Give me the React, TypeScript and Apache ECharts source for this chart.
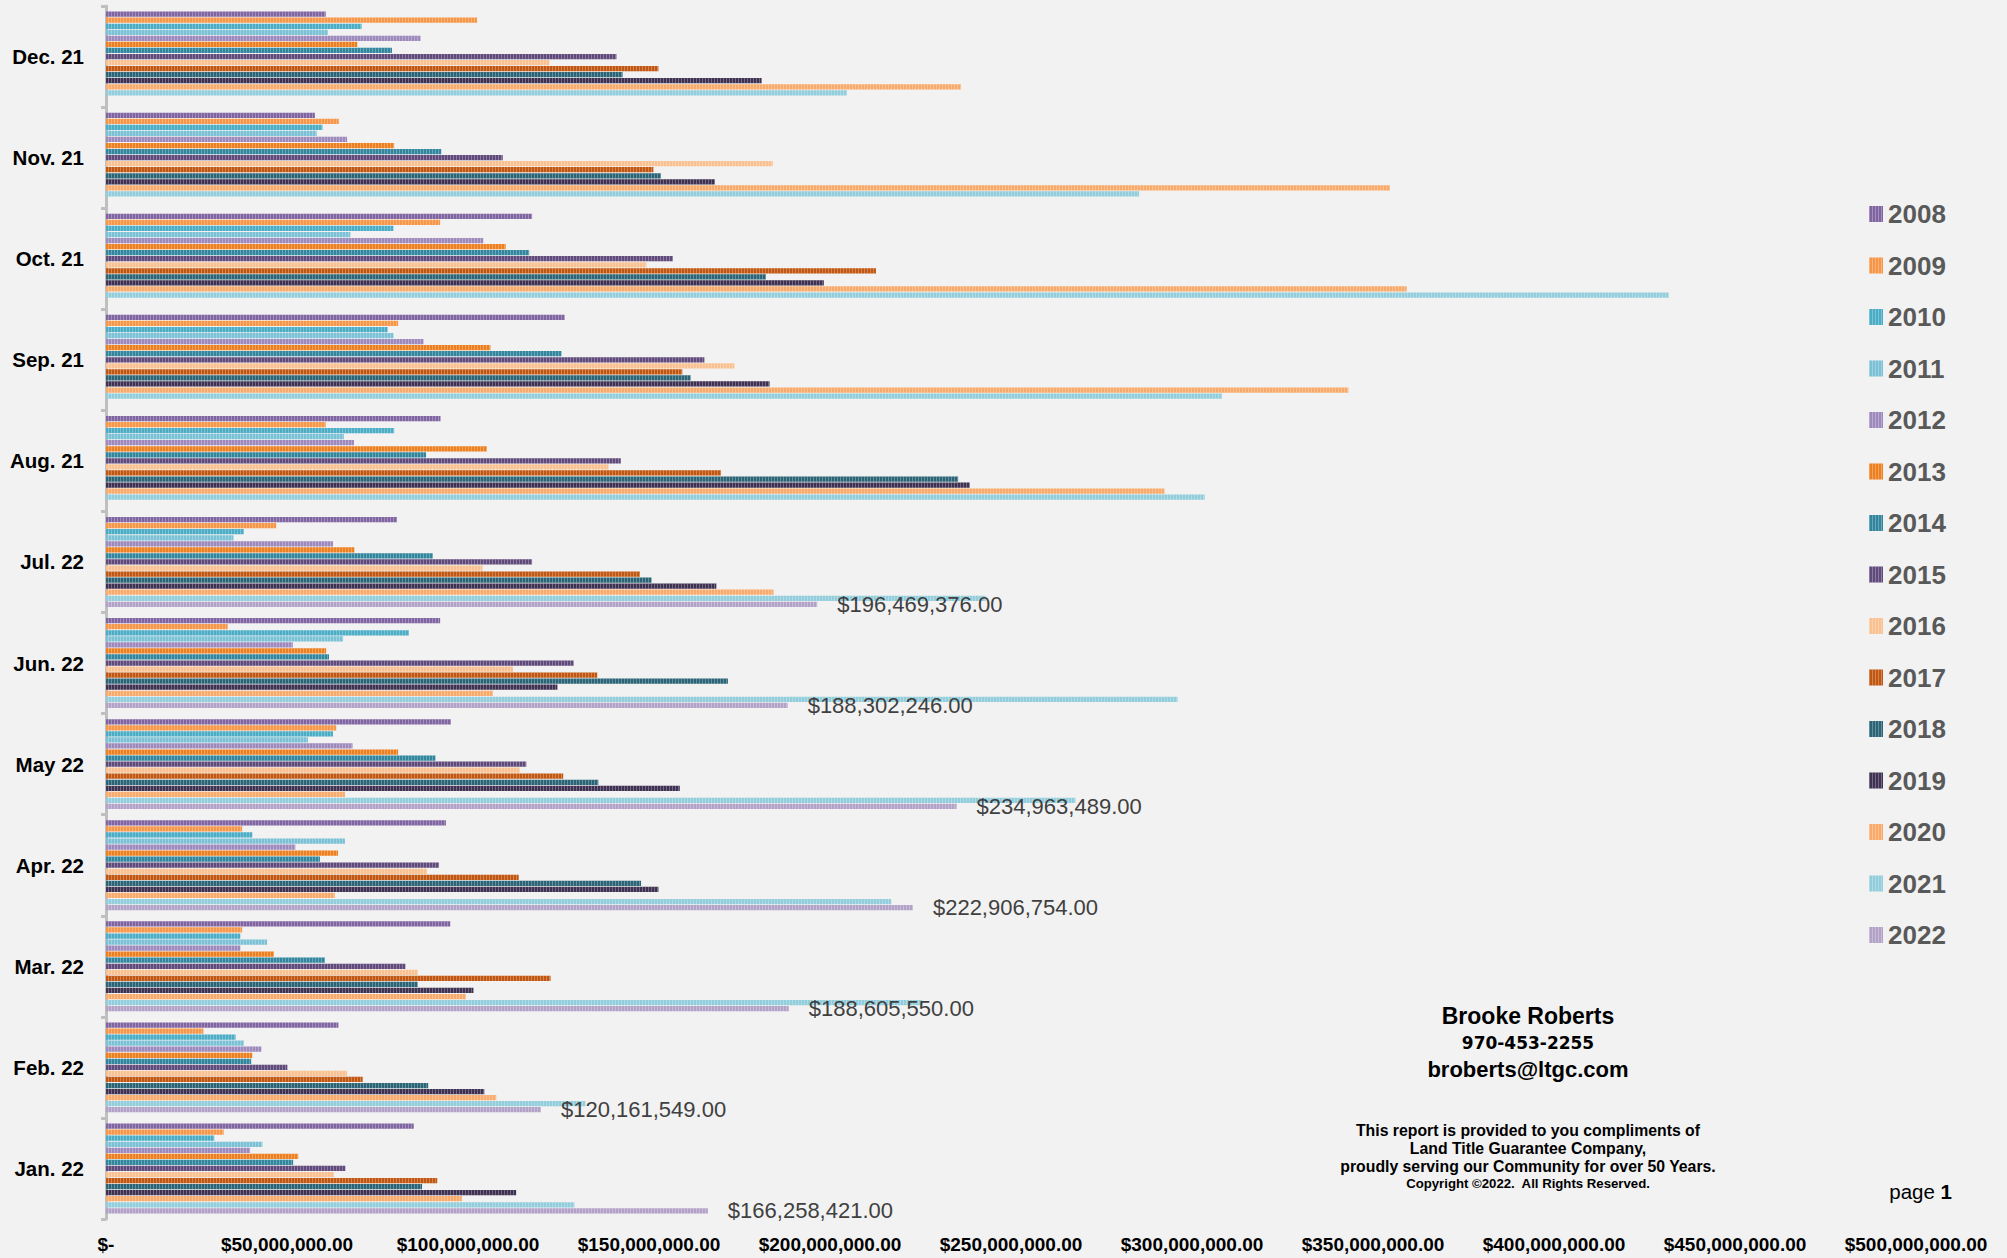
import React, { useEffect, useRef } from 'react';
import * as echarts from 'echarts';

const categories = ['Jan. 22', 'Feb. 22', 'Mar. 22', 'Apr. 22', 'May 22', 'Jun. 22', 'Jul. 22', 'Aug. 21', 'Sep. 21', 'Oct. 21', 'Nov. 21', 'Dec. 21'];
const seriesNames = ['2008', '2009', '2010', '2011', '2012', '2013', '2014', '2015', '2016', '2017', '2018', '2019', '2020', '2021', '2022'];
const xTicks = [0, 50e6, 100e6, 150e6, 200e6, 250e6, 300e6, 350e6, 400e6, 450e6, 500e6];

const v2008 = [85.0e6, 64.2e6, 95.1e6, 93.9e6, 95.3e6, 92.3e6, 80.4e6, 92.4e6, 126.7e6, 117.7e6, 57.7e6, 60.7e6];
const v2009 = [32.5e6, 26.9e6, 37.6e6, 37.6e6, 63.6e6, 33.6e6, 47.0e6, 60.7e6, 80.7e6, 92.3e6, 64.3e6, 102.5e6];
const v2010 = [29.9e6, 35.8e6, 37.1e6, 40.4e6, 62.7e6, 83.7e6, 38.1e6, 79.6e6, 77.8e6, 79.4e6, 59.8e6, 70.6e6];
const v2011 = [43.2e6, 38.1e6, 44.5e6, 66.0e6, 55.8e6, 65.5e6, 35.2e6, 65.7e6, 79.4e6, 67.5e6, 58.2e6, 61.3e6];
const v2012 = [39.8e6, 42.9e6, 37.1e6, 52.3e6, 68.1e6, 51.6e6, 62.7e6, 68.5e6, 87.7e6, 104.2e6, 66.6e6, 86.9e6];
const v2013 = [53.1e6, 40.4e6, 46.4e6, 64.1e6, 80.7e6, 60.8e6, 68.6e6, 105.2e6, 106.2e6, 110.4e6, 79.6e6, 69.4e6];
const v2014 = [51.7e6, 40.1e6, 60.5e6, 59.1e6, 91.0e6, 61.6e6, 90.3e6, 88.4e6, 125.8e6, 116.9e6, 92.6e6, 79.0e6];
const v2015 = [66.1e6, 50.1e6, 82.7e6, 92.0e6, 116.1e6, 129.2e6, 117.7e6, 142.2e6, 165.3e6, 156.6e6, 109.6e6, 141.0e6];
const v2016 = [63.0e6, 66.6e6, 86.1e6, 88.7e6, 114.3e6, 112.4e6, 104.0e6, 138.8e6, 173.6e6, 149.3e6, 184.2e6, 122.5e6];
const v2017 = [91.5e6, 70.9e6, 122.8e6, 114.0e6, 126.3e6, 135.7e6, 147.5e6, 169.9e6, 159.2e6, 212.7e6, 151.2e6, 152.6e6];
const v2018 = [87.3e6, 89.0e6, 86.1e6, 147.8e6, 136.0e6, 171.8e6, 150.7e6, 235.4e6, 161.5e6, 182.3e6, 153.3e6, 142.7e6];
const v2019 = [113.3e6, 104.5e6, 101.5e6, 152.6e6, 158.5e6, 124.7e6, 168.6e6, 238.6e6, 183.3e6, 198.3e6, 168.2e6, 181.1e6];
const v2020 = [98.3e6, 107.8e6, 99.4e6, 63.2e6, 66.0e6, 106.9e6, 184.4e6, 292.4e6, 343.2e6, 359.3e6, 354.7e6, 236.2e6];
const v2021 = [129.4e6, 132.4e6, 225.5e6, 216.9e6, 267.8e6, 296.0e6, 243.0e6, 303.5e6, 308.3e6, 431.7e6, 285.4e6, 204.7e6];
const v2022 = [166258421, 120161549, 188605550, 222906754, 234963489, 188302246, 196469376, null, null, null, null, null];

const seriesValues = [v2008, v2009, v2010, v2011, v2012, v2013, v2014, v2015, v2016, v2017, v2018, v2019, v2020, v2021, v2022];

const colors = [
  '#8064A2', '#F79646', '#4BACC6', '#7BC1D5', '#9E89BD',
  '#EE7F1E', '#31859C', '#604A7B', '#FAC090', '#C0560F',
  '#2B6476', '#3F3151', '#F9AA6A', '#92CDDC', '#B3A2C7',
];

const FONT = '"Liberation Sans", Arial, sans-serif';

function money(v: number): string {
  if (v === 0) return '$-';
  const s = Math.round(v).toString().replace(/\B(?=(\d{3})+(?!\d))/g, ',');
  return '$' + s + '.00';
}

export default function App() {
  const ref = useRef<HTMLDivElement>(null);

  useEffect(() => {
    if (!ref.current) return;
    const chart = echarts.init(ref.current, null, { renderer: 'svg' });

    const series = seriesNames.map((name, i) => ({
      name,
      type: 'bar',
      data: seriesValues[i],
      barCategoryGap: '11%',
      barGap: '15%',
      itemStyle: {
        color: colors[i],
        decal: {
          symbol: 'rect',
          symbolSize: 1,
          dashArrayX: [1, 2],
          dashArrayY: [4, 0],
          color: 'rgba(255,255,255,0.28)',
        },
      },
      label: i === seriesNames.length - 1
        ? {
            show: true,
            position: 'right',
            distance: 20,
            formatter: (p: any) => money(p.value),
            fontSize: 22,
            color: '#404040',
            fontFamily: FONT,
          }
        : { show: false },
    }));

    chart.setOption({
      animation: false,
      backgroundColor: '#F2F2F2',
      color: colors,
      grid: { left: 106, right: 91, top: 6, bottom: 39, containLabel: false },
      xAxis: {
        type: 'value',
        min: xTicks[0],
        max: xTicks[xTicks.length - 1],
        interval: xTicks[1] - xTicks[0],
        axisLine: { show: false },
        axisTick: { show: false },
        splitLine: { show: false },
        axisLabel: {
          formatter: (v: number) => money(v),
          fontSize: 19,
          fontWeight: 'bold',
          color: '#000',
          fontFamily: FONT,
          margin: 16,
        },
      },
      yAxis: {
        type: 'category',
        data: categories,
        axisLine: { show: true, lineStyle: { color: '#BFBFBF', width: 3 } },
        axisTick: { show: true, length: 5, lineStyle: { color: '#BFBFBF', width: 3 } },
        axisLabel: {
          fontSize: 20.5,
          fontWeight: 'bold',
          color: '#000',
          fontFamily: FONT,
          margin: 22,
        },
      },
      legend: {
        orient: 'vertical',
        left: 1869,
        top: 201,
        padding: 0,
        itemWidth: 14,
        itemHeight: 16,
        itemGap: 25.5,
        icon: 'rect',
        data: seriesNames,
        textStyle: {
          fontSize: 26,
          lineHeight: 26,
          fontWeight: 'bold',
          color: '#595959',
          fontFamily: FONT,
        },
      },
      graphic: [
        {
          type: 'text', x: 1528, y: 1016,
          style: { text: 'Brooke Roberts', font: 'bold 23px "Liberation Sans", Arial, sans-serif', fill: '#000', textAlign: 'center', textVerticalAlign: 'middle' },
        },
        {
          type: 'text', x: 1528, y: 1043,
          style: { text: '970-453-2255', font: 'bold 17px "DejaVu Sans", sans-serif', fill: '#000', textAlign: 'center', textVerticalAlign: 'middle' },
        },
        {
          type: 'text', x: 1528, y: 1069,
          style: { text: 'broberts@ltgc.com', font: 'bold 22px "Liberation Sans", Arial, sans-serif', fill: '#000', textAlign: 'center', textVerticalAlign: 'middle' },
        },
        {
          type: 'text', x: 1528, y: 1130,
          style: { text: 'This report is provided to you compliments of', font: 'bold 15.8px "Liberation Sans", Arial, sans-serif', fill: '#000', textAlign: 'center', textVerticalAlign: 'middle' },
        },
        {
          type: 'text', x: 1528, y: 1148,
          style: { text: 'Land Title Guarantee Company,', font: 'bold 15.8px "Liberation Sans", Arial, sans-serif', fill: '#000', textAlign: 'center', textVerticalAlign: 'middle' },
        },
        {
          type: 'text', x: 1528, y: 1166,
          style: { text: 'proudly serving our Community for over 50 Years.', font: 'bold 15.8px "Liberation Sans", Arial, sans-serif', fill: '#000', textAlign: 'center', textVerticalAlign: 'middle' },
        },
        {
          type: 'text', x: 1528, y: 1183,
          style: { text: 'Copyright ©2022.  All Rights Reserved.', font: 'bold 13.2px "Liberation Sans", Arial, sans-serif', fill: '#000', textAlign: 'center', textVerticalAlign: 'middle' },
        },
        {
          type: 'text', x: 1952, y: 1191,
          style: {
            text: '{a|page }{b|1}',
            textAlign: 'right',
            textVerticalAlign: 'middle',
            rich: {
              a: { fontSize: 20.5, fontFamily: FONT, color: '#000' },
              b: { fontSize: 20.5, fontFamily: FONT, fontWeight: 'bold', color: '#000' },
            },
          },
        },
      ],
      series,
    });

    return () => chart.dispose();
  }, []);

  return (
    <div
      ref={ref}
      style={{ position: 'absolute', left: 0, top: 0, width: 2007, height: 1258, background: '#F2F2F2' }}
    />
  );
}
